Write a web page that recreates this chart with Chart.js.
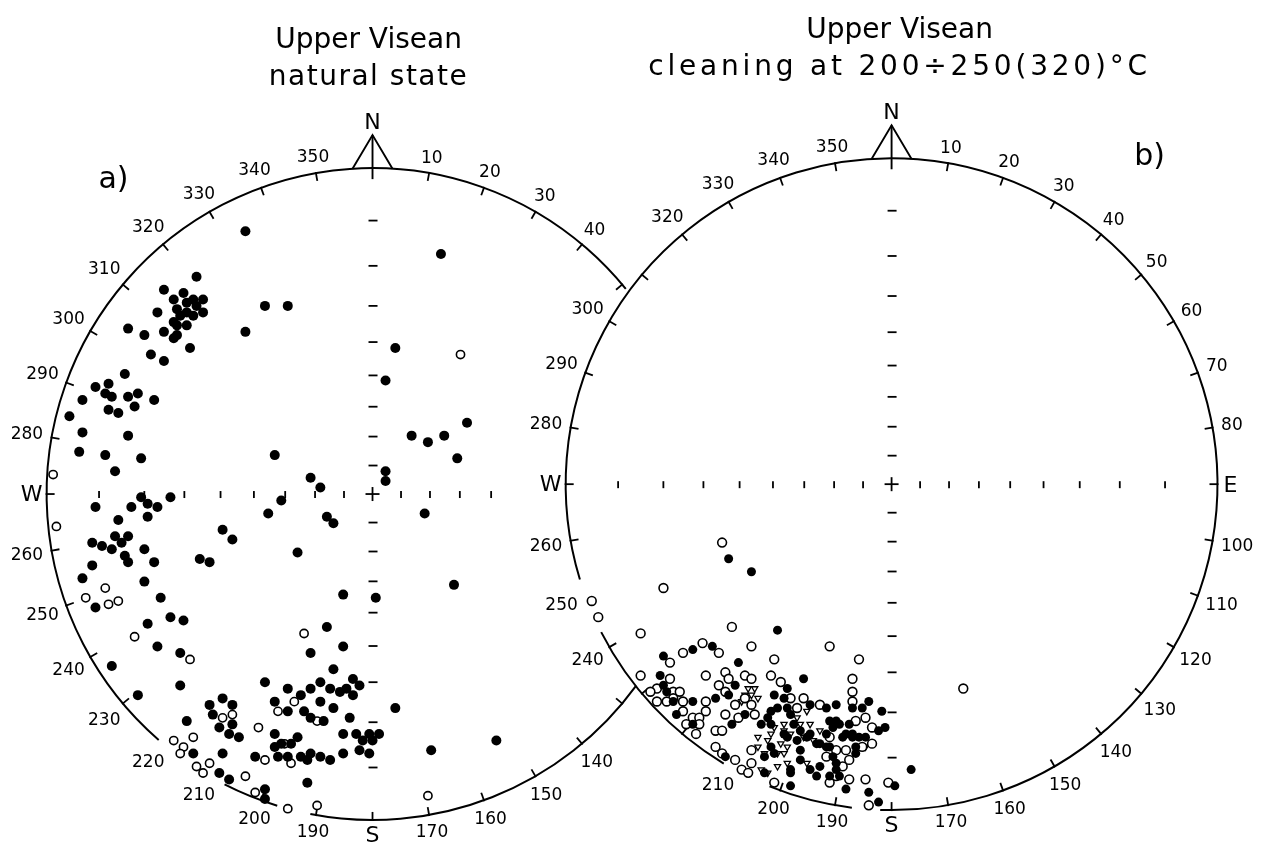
<!DOCTYPE html>
<html lang="en">

<head>
  <meta charset="UTF-8" />
  <title>Upper Visean – natural state / cleaning at 200÷250(320)°C</title>
  <script src="https://cdn.jsdelivr.net/npm/chart.js@4.4.1/dist/chart.umd.min.js"></script>
  <style>
    body {
      margin: 0;
      background: #fff;
    }

    canvas {
      display: block;
    }
  </style>
</head>

<body>
  <canvas id="nets" width="1274" height="853"></canvas>
  <script>
    // Directions read off the nets, as east / north components of the
    // stereographic projection (100 = primitive circle). All lower hemisphere.

    // a) natural state
    const naturalSolid = [
      [-39, 81], [-54, 67], [-64, 63], [-58, 62], [-61, 60], [-55, 60], [-52, 60], [-57, 59], [-60, 57], [-54, 58],
      [-66, 56], [-57, 56], [-52, 56], [-59, 55], [-55, 55], [-61, 53], [-57, 52], [-60, 52], [-64, 50], [-75, 51],
      [-70, 49], [-60, 49], [-61, 48], [-56, 45], [-68, 43], [-64, 41], [-39, 50], [-33, 58], [-26, 58], [7, 45],
      [4, 35], [-76, 37], [-85, 33], [-81, 34], [-82, 31], [-80, 30], [-75, 30], [-72, 31], [-67, 29], [-89, 29],
      [-81, 26], [-78, 25], [-73, 27], [-93, 24], [-89, 19], [-75, 18], [-90, 13], [-82, 12], [-71, 11], [-79, 7],
      [12, 18], [-30, 12], [-19, 5], [-16, 2], [4, 7], [4, 4], [21, 74], [29, 22], [17, 16], [22, 18], [26, 11],
      [-85, -4], [-71, -1], [-74, -4], [-69, -3], [-66, -4], [-62, -1], [-69, -7], [-78, -8], [-28, -2], [-32, -6],
      [-14, -7], [-12, -9], [-46, -11], [-43, -14], [-23, -18], [-79, -13], [-75, -13], [-77, -15], [-86, -15], [-83, -16],
      [-80, -17], [-70, -17], [-76, -19], [-75, -21], [-67, -21], [-53, -20], [-50, -21], [-86, -22], [-89, -26], [-70, -27],
      [-65, -32], [-85, -35], [-62, -38], [-58, -39], [-69, -40], [-66, -47], [-59, -49], [-80, -53], [-59, -59], [-72, -62],
      [-9, -31], [1, -32], [-14, -41], [-19, -49], [-9, -47], [-12, -54], [-33, -58], [-26, -60], [-22, -62], [-19, -60],
      [-16, -58], [-13, -60], [-10, -61], [-8, -60], [-6, -57], [-4, -59], [-6, -62], [-16, -64], [-12, -66], [-30, -64],
      [-26, -67], [-21, -67], [-19, -69], [-15, -70], [-7, -69], [7, -66], [-50, -65], [-46, -63], [-43, -65], [-49, -68],
      [-57, -70], [-47, -72], [-43, -71], [-44, -74], [-41, -75], [-30, -74], [-23, -75], [-25, -77], [-9, -74], [-5, -74],
      [-3, -76], [-1, -74], [2, -74], [0, -76], [-4, -79], [-1, -80], [-30, -78], [-28, -77], [-26, -81], [-22, -81],
      [-19, -80], [-16, -81], [-13, -82], [-9, -80], [-36, -81], [-29, -81], [-20, -82], [-55, -80], [-46, -80], [-47, -86],
      [-44, -88], [-20, -89], [-33, -91], [-33, -94], [16, -6], [25, -28], [18, -79], [38, -76]
    ];
    const naturalOpen = [
      [-98, 6], [27, 43], [-97, -10], [-88, -32], [-82, -29], [-81, -34], [-78, -33], [-73, -44], [-56, -51], [-21, -43],
      [-24, -64], [-29, -67], [-17, -70], [-43, -68], [-46, -69], [-35, -72], [-27, -77], [-33, -82], [-25, -83], [-61, -76],
      [-55, -75], [-58, -78], [-59, -80], [-50, -83], [-54, -84], [-52, -86], [-39, -87], [-36, -92], [-26, -97], [-17, -96],
      [17, -93]
    ];

    // b) cleaning at 200÷250(320)°C
    const cleanedSolid = [
      [-50, -23], [-43, -27], [-35, -45], [-70, -53], [-61, -51], [-55, -50], [-71, -59], [-70, -62], [-69, -64], [-67, -67],
      [-61, -67], [-54, -66], [-66, -71], [-61, -74], [-51, -84], [-47, -55], [-27, -60], [-32, -63], [-36, -65], [-33, -66],
      [-48, -62], [-50, -65], [-45, -71], [-49, -74], [-25, -68], [-20, -69], [-17, -68], [-37, -70], [-35, -69], [-32, -69],
      [-31, -71], [-38, -72], [-40, -74], [-30, -74], [-28, -76], [-26, -78], [-25, -77], [-23, -80], [-29, -79], [-32, -78],
      [-33, -77], [-37, -74], [-19, -73], [-18, -75], [-20, -77], [-22, -80], [-20, -81], [-37, -81], [-36, -83], [-39, -84],
      [-28, -82], [-28, -85], [-25, -88], [-22, -87], [-23, -90], [-19, -90], [-17, -88], [-31, -88], [-31, -93], [-31, -89],
      [-39, -89], [-19, -81], [-18, -84], [-12, -69], [-9, -69], [-7, -67], [-3, -70], [-17, -73], [-16, -74], [-13, -74],
      [-12, -77], [-14, -77], [-15, -78], [-12, -78], [-10, -78], [-8, -78], [-11, -81], [-11, -83], [-17, -86], [-16, -90],
      [-4, -76], [-2, -75], [6, -88], [1, -93], [-7, -95], [-14, -94], [-4, -98]
    ];
    const cleanedOpen = [
      [-52, -18], [-70, -32], [-92, -36], [-90, -41], [-77, -46], [-49, -44], [-64, -52], [-58, -49], [-53, -52], [-68, -55],
      [-77, -59], [-68, -60], [-57, -59], [-51, -58], [-72, -63], [-74, -64], [-67, -64], [-65, -64], [-53, -62], [-51, -64],
      [-57, -67], [-67, -66], [-72, -67], [-69, -67], [-64, -67], [-57, -70], [-64, -70], [-61, -72], [-59, -72], [-63, -74],
      [-59, -74], [-60, -77], [-54, -76], [-52, -76], [-51, -71], [-54, -81], [-43, -50], [-36, -54], [-19, -50], [-37, -59],
      [-34, -61], [-50, -60], [-45, -59], [-43, -60], [-48, -68], [-45, -66], [-43, -68], [-42, -71], [-47, -72], [-31, -66],
      [-27, -66], [-29, -69], [-22, -68], [-52, -83], [-48, -85], [-43, -82], [-46, -88], [-43, -86], [-44, -89], [-36, -92],
      [-20, -84], [-19, -92], [-17, -90], [-10, -54], [-12, -60], [-12, -64], [-12, -67], [-8, -72], [-11, -73], [-6, -75],
      [-19, -78], [-6, -80], [-9, -81], [-17, -82], [-14, -82], [-13, -85], [-15, -87], [-13, -91], [-8, -91], [-1, -92],
      [-7, -99], [22, -63]
    ];
    const cleanedTriangle = [
      [-44, -63], [-42, -63], [-45, -65], [-43, -65], [-41, -66], [-46, -67], [-37, -77], [-38, -79], [-41, -78], [-41, -81],
      [-36, -75], [-33, -74], [-26, -70], [-28, -74], [-25, -74], [-22, -76], [-27, -78], [-24, -79], [-31, -77], [-33, -76],
      [-34, -80], [-35, -83], [-33, -83], [-32, -86], [-35, -87], [-32, -81], [-39, -83], [-40, -88], [-38, -89], [-26, -86],
      [-29, -72], [-8, -81]
    ];

    // azimuth labels on the primitive circles
    const labelsNatural = [10, 20, 30, 40, 140, 150, 160, 170, 190, 200, 210, 220, 230, 240, 250, 260, 280, 290, 300, 310, 320, 330, 340, 350];
    const labelsCleaned = [10, 20, 30, 40, 50, 60, 70, 80, 100, 110, 120, 130, 140, 150, 160, 170, 190, 200, 210, 240, 250, 260, 280, 290, 300, 320, 330, 340, 350];
    // inclination marks along the N-S and E-W diameters
    const dipMarks = [10, 20, 30, 40, 50, 60, 70, 80];

    // ---- layout ----
    const PX = 3.29; // pixels per net unit
    const W = 1274, H = 853;
    const FONT = '"DejaVu Sans", sans-serif';

    const nets = [
      {
        cx: 370, cy: 495,
        arcs: [[221, 411], [197, 207], [126, 191]],
        labels: labelsNatural,
        letters: ['W', 'S'],
        eastMarks: [50, 60, 70, 80],
        tag: 'a)', tagAt: [-259, -314],
        title: ['Upper Visean', 'natural state'], titleDx: -4, spacing: [0, 1.5]
      },
      {
        cx: 894, cy: 485,
        arcs: [[253, 542], [187, 202], [211, 243]],
        labels: labelsCleaned,
        letters: ['W', 'E', 'S'],
        eastMarks: dipMarks,
        tag: 'b)', tagAt: [258, -327],
        title: ['Upper Visean', 'cleaning at 200÷250(320)°C'], titleDx: 8, spacing: [0, 3.8]
      }
    ];
    nets.forEach(n => {
      n.ox = (n.cx - nets[0].cx) / PX;
      n.oy = (nets[0].cy - n.cy) / PX;
    });

    const toPoints = (arr, net) => arr.map(([e, n]) => ({ x: net.ox + e, y: net.oy + n }));
    const rad = d => d * Math.PI / 180;

    function geom(chart, net) {
      const xs = chart.scales.x, ys = chart.scales.y;
      const cx = xs.getPixelForValue(net.ox);
      const cy = ys.getPixelForValue(net.oy);
      const r = xs.getPixelForValue(net.ox + 100) - cx;
      return { cx, cy, r };
    }

    function polar(g, az, d) {
      return [g.cx + d * Math.sin(rad(az)), g.cy - d * Math.cos(rad(az))];
    }

    function line(ctx, x1, y1, x2, y2) {
      ctx.beginPath();
      ctx.moveTo(x1, y1);
      ctx.lineTo(x2, y2);
      ctx.stroke();
    }

    function onArc(net, az) {
      return net.arcs.some(([a, b]) => (az >= a - 0.5 && az <= b + 0.5) || (az + 360 >= a - 0.5 && az + 360 <= b + 0.5));
    }

    function drawNet(ctx, chart, net) {
      const g = geom(chart, net);

      // primitive circle (broken where the other net / points cover it)
      ctx.lineWidth = 2;
      net.arcs.forEach(([a, b]) => {
        ctx.beginPath();
        ctx.arc(g.cx, g.cy, g.r, rad(a - 90), rad(b - 90));
        ctx.stroke();
      });

      // 10 degree ticks
      ctx.lineWidth = 1.8;
      for (let az = 10; az < 360; az += 10) {
        if (!onArc(net, az)) continue;
        const [x1, y1] = polar(g, az, g.r - 8);
        const [x2, y2] = polar(g, az, g.r + 1);
        line(ctx, x1, y1, x2, y2);
      }

      // azimuth numbers
      ctx.font = '17px ' + FONT;
      ctx.textAlign = 'center';
      ctx.textBaseline = 'middle';
      net.labels.forEach(az => {
        const t = String(az);
        const w = ctx.measureText(t).width;
        const d = g.r + 8 + (w / 2) * Math.abs(Math.sin(rad(az))) + 6 * Math.abs(Math.cos(rad(az)));
        const [x, y] = polar(g, az, d);
        ctx.fillText(t, x, y + 1);
      });

      // north arrow
      const apexY = g.cy - g.r - 33;
      const baseY = g.cy - Math.sqrt(g.r * g.r - 400);
      ctx.lineWidth = 1.9;
      ctx.beginPath();
      ctx.moveTo(g.cx - 20, baseY);
      ctx.lineTo(g.cx, apexY);
      ctx.lineTo(g.cx + 20, baseY);
      ctx.stroke();
      line(ctx, g.cx, apexY, g.cx, g.cy - g.r + 11);

      ctx.font = '22px ' + FONT;
      ctx.fillText('N', g.cx, g.cy - g.r - 45);
      net.letters.forEach(l => {
        if (l === 'S') ctx.fillText('S', g.cx, g.cy + g.r + 16);
        if (l === 'W') ctx.fillText('W', g.cx - g.r - 15, g.cy + 1);
        if (l === 'E') ctx.fillText('E', g.cx + g.r + 13, g.cy + 2);
      });

      // centre cross and inclination marks
      ctx.lineWidth = 1.8;
      line(ctx, g.cx - 7, g.cy, g.cx + 7, g.cy);
      line(ctx, g.cx, g.cy - 7, g.cx, g.cy + 7);
      dipMarks.forEach(inc => {
        const d = g.r * Math.tan(rad((90 - inc) / 2));
        line(ctx, g.cx - 4, g.cy - d, g.cx + 5, g.cy - d);
        line(ctx, g.cx - 4, g.cy + d, g.cx + 5, g.cy + d);
        line(ctx, g.cx - d, g.cy - 3, g.cx - d, g.cy + 4);
      });
      net.eastMarks.forEach(inc => {
        const d = g.r * Math.tan(rad((90 - inc) / 2));
        line(ctx, g.cx + d, g.cy - 3, g.cx + d, g.cy + 4);
      });

      // panel tag and heading
      ctx.font = '30px ' + FONT;
      ctx.fillText(net.tag, g.cx + net.tagAt[0], g.cy + net.tagAt[1]);
      ctx.font = '28px ' + FONT;
      net.title.forEach((t, i) => {
        ctx.letterSpacing = net.spacing[i] + 'px';
        ctx.fillText(t, g.cx + net.titleDx, g.cy - 453 + i * 37);
      });
      ctx.letterSpacing = '0px';
    }

    const stereonets = {
      id: 'stereonets',
      beforeDatasetsDraw(chart) {
        const ctx = chart.ctx;
        ctx.save();
        ctx.strokeStyle = '#000';
        ctx.fillStyle = '#000';
        nets.forEach(net => drawNet(ctx, chart, net));
        ctx.restore();
      }
    };

    const solid = { pointStyle: 'circle', backgroundColor: '#000', borderColor: '#000', borderWidth: 0 };
    const open = { pointStyle: 'circle', backgroundColor: '#fff', borderColor: '#000', borderWidth: 1.6 };

    new Chart(document.getElementById('nets'), {
      type: 'scatter',
      data: {
        datasets: [
          { label: 'a) solid', data: toPoints(naturalSolid, nets[0]), ...solid, pointRadius: 5 },
          { label: 'a) open', data: toPoints(naturalOpen, nets[0]), ...open, pointRadius: 4.1 },
          { label: 'b) solid', data: toPoints(cleanedSolid, nets[1]), ...solid, pointRadius: 4.5 },
          { label: 'b) open', data: toPoints(cleanedOpen, nets[1]), ...open, pointRadius: 4.4 },
          {
            label: 'b) triangle', data: toPoints(cleanedTriangle, nets[1]),
            pointStyle: 'triangle', rotation: 180, pointRadius: 3.6,
            backgroundColor: '#fff', borderColor: '#000', borderWidth: 1.3
          }
        ]
      },
      options: {
        responsive: false,
        animation: false,
        events: [],
        layout: { padding: 0 },
        plugins: {
          legend: { display: false },
          tooltip: { enabled: false }
        },
        scales: {
          x: { type: 'linear', display: false, min: -nets[0].cx / PX, max: (W - nets[0].cx) / PX },
          y: { type: 'linear', display: false, min: -(H - nets[0].cy) / PX, max: nets[0].cy / PX }
        }
      },
      plugins: [stereonets]
    });
  </script>
</body>

</html>
